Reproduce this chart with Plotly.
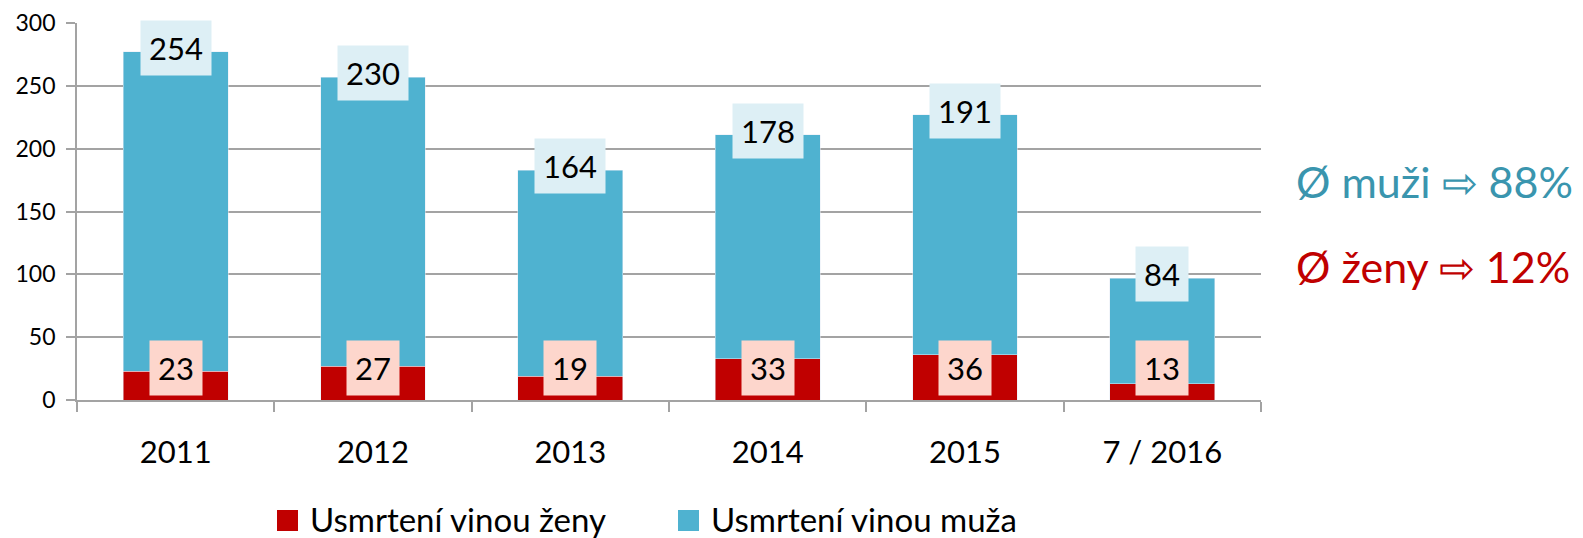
import plotly.graph_objects as go

categories = ["2011", "2012", "2013", "2014", "2015", "7 / 2016"]
zeny = [23, 27, 19, 33, 36, 13]
muzi = [254, 230, 164, 178, 191, 84]
name_zeny = "Usmrtení vinou ženy"
name_muzi = "Usmrtení vinou muža"
note_muzi = "Ø muži ⇨ 88%"
note_zeny = "Ø ženy ⇨ 12%"

RED = "#C00000"
BLUE = "#4FB2D0"
GRID = "#A3A3A3"
FONT = "Lato"

# plot area in page pixels (page body has an 8px offset)
PX0, PX1, PY0, PY1 = 77, 1261, 23, 400
def px(x):
    return (x - PX0) / (PX1 - PX0)
def py(y):
    return (PY1 - y) / (PY1 - PY0)

fig = go.Figure()
fig.add_bar(x=categories, y=zeny, name=name_zeny, marker_color=RED, width=0.532, showlegend=False)
fig.add_bar(x=categories, y=muzi, name=name_muzi, marker_color=BLUE, width=0.532, showlegend=False)

for i, (z, m) in enumerate(zip(zeny, muzi)):
    fig.add_annotation(x=i, y=0, yanchor="bottom", yshift=4, text=str(z), showarrow=False,
                       bgcolor="#FDD6CC", borderpad=8, font=dict(size=31, color="black", family=FONT))
    fig.add_annotation(x=i, y=z + m, yanchor="middle", yshift=4, text=str(m), showarrow=False,
                       bgcolor="#DDEFF5", borderpad=8, font=dict(size=31, color="black", family=FONT))

fig.add_annotation(xref="paper", yref="paper", x=px(1294), y=py(181), xanchor="left", yanchor="middle",
                   text=note_muzi, showarrow=False, font=dict(size=43, color="#3A95AE", family=FONT))
fig.add_annotation(xref="paper", yref="paper", x=px(1294), y=py(266), xanchor="left", yanchor="middle",
                   text=note_zeny, showarrow=False, font=dict(size=43, color=RED, family=FONT))

# legend (drawn manually to get the large square keys)
for (x0, col, name) in [(277, RED, name_zeny), (678, BLUE, name_muzi)]:
    fig.add_shape(type="rect", xref="paper", yref="paper", x0=px(x0), x1=px(x0 + 21),
                  y0=py(531), y1=py(510), fillcolor=col, line_width=0)
    fig.add_annotation(xref="paper", yref="paper", x=px(x0 + 31), y=py(519), xanchor="left",
                       yanchor="middle", text=name, showarrow=False,
                       font=dict(size=33, color="black", family=FONT))

fig.update_layout(
    barmode="stack",
    width=1575, height=530,
    margin=dict(l=69, r=322, t=15, b=138, autoexpand=False),
    plot_bgcolor="white", paper_bgcolor="white",
    font=dict(family=FONT, color="black"),
    showlegend=False,
    xaxis=dict(type="category", range=[-0.5, 5.5], showline=True, linecolor=GRID, linewidth=2,
               ticks="outside", tickson="boundaries", ticklen=10, tickcolor=GRID, tickwidth=2,
               tickfont=dict(size=31), showgrid=False, tickangle=0, ticklabelstandoff=24),
    yaxis=dict(range=[0, 300], dtick=50, showline=True, linecolor=GRID, linewidth=2,
               gridcolor=GRID, gridwidth=2, ticks="outside", ticklen=9, tickcolor=GRID, tickwidth=2,
               tickfont=dict(size=23), zeroline=False, ticksuffix="\u00a0",
               ticklabeloverflow="allow"),
)

fig.write_html("out.html")
